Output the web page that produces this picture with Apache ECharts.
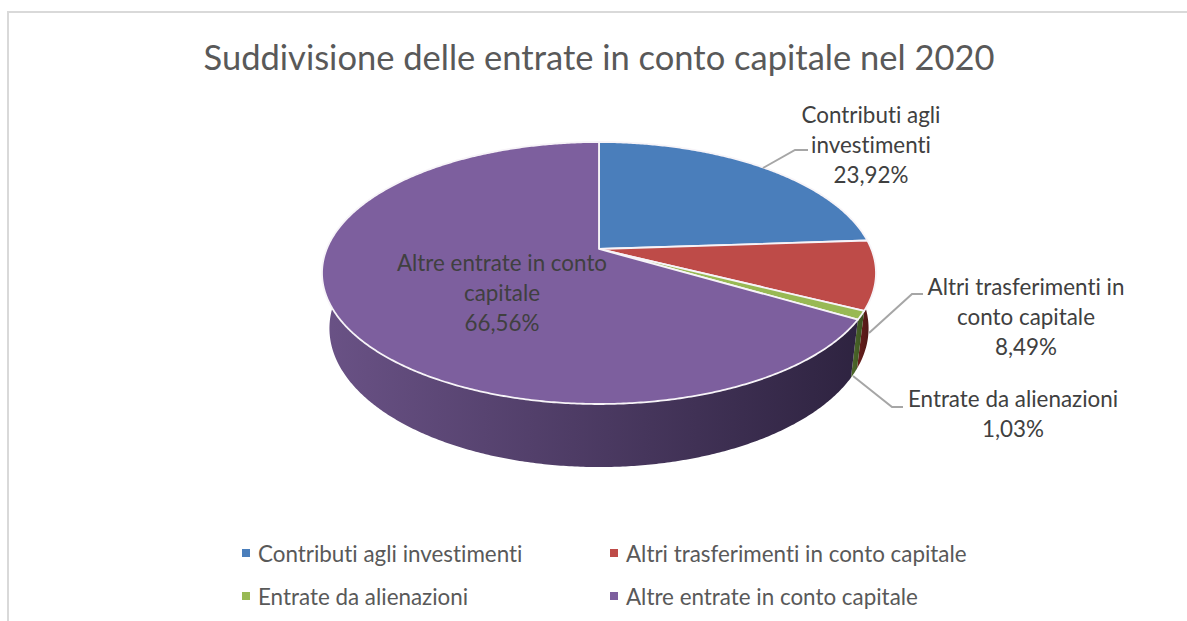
<!DOCTYPE html>
<html>
<head>
<meta charset="utf-8">
<style>
  html, body { margin: 0; padding: 0; background: #fff; }
  #main { width: 1187px; height: 621px; }
  #main text { font-variant-ligatures: none !important; }
</style>
<script src="https://cdn.jsdelivr.net/npm/echarts@6/dist/echarts.min.js"></script>
</head>
<body>
<div id="main"></div>
<script>
const titleText = "Suddivisione delle entrate in conto capitale nel 2020";
const categories = [
  "Contributi agli investimenti",
  "Altri trasferimenti in conto capitale",
  "Entrate da alienazioni",
  "Altre entrate in conto capitale",
];
const values = [23.92, 8.49, 1.03, 66.56];
const labelNames = [
  "Contributi agli\ninvestimenti",
  "Altri trasferimenti in\nconto capitale",
  "Entrate da alienazioni",
  "Altre entrate in conto\ncapitale",
];

const colors = ["#4a7ebb", "#be4b48", "#98b954", "#7d5f9e"];
const wallStops = [
  ["#35587f", "#2c4a6c"],
  ["#6b1f1d", "#3f1412"],
  ["#4f6a2b", "#3a5020"],
  ["#6a5286", "#2e2340"],
];

// label position and leader line for each slice
const labelPos = [
  [871, 144],
  [1026, 316],
  [1013, 413],
  [502, 292],
];
const leaders = [
  [[763, 168], [795, 150], [808, 150]],
  [[869, 333], [912, 294], [923, 294]],
  [[853, 376], [892, 407], [903, 407]],
  null,
];

// the pie is seen in perspective, so the centre sits above the middle of the ellipse
const cx = 599;
const persp = 0.1832;
const topRim = { y0: 249, rx: 272.3, ry: 126.6 };
const lowRim = { y0: 303, rx: 265, ry: 134 };

function rimPoint(rim, deg) {
  const a = deg * Math.PI / 180;
  const u = Math.sin(a);
  const v = -Math.cos(a);
  const d = 1 - persp * v;
  return [cx + rim.rx * u / d, rim.y0 + rim.ry * v / d];
}

function arc(rim, from, to) {
  const pts = [];
  const n = Math.max(2, Math.ceil((to - from) * 2));
  for (let i = 0; i <= n; i++) {
    pts.push(rimPoint(rim, from + (to - from) * i / n));
  }
  return pts;
}

const total = values.reduce((s, v) => s + v, 0);

function sliceRange(idx) {
  let before = 0;
  for (let i = 0; i < idx; i++) before += values[i];
  return [before / total * 360, (before + values[idx]) / total * 360];
}

function renderSlice(idx, api) {
  const range = sliceRange(idx);
  const value = api.value(0);
  const top = arc(topRim, range[0], range[1]);
  const low = arc(lowRim, range[0], range[1]);
  const children = [];

  // side wall
  const xs = low.concat(top).map((p) => p[0]);
  children.push({
    type: "polygon",
    shape: { points: top.concat(low.slice().reverse()) },
    style: {
      fill: new echarts.graphic.LinearGradient(
        Math.min.apply(null, xs), 0, Math.max.apply(null, xs), 0,
        [
          { offset: 0, color: wallStops[idx][0] },
          { offset: 1, color: wallStops[idx][1] },
        ],
        true
      ),
    },
  });

  // top face
  children.push({
    type: "polygon",
    shape: { points: [[cx, topRim.y0]].concat(top) },
    style: { fill: colors[idx], stroke: "#f7f4f8", lineWidth: 1.8, lineJoin: "round" },
  });

  if (leaders[idx]) {
    children.push({
      type: "polyline",
      shape: { points: leaders[idx] },
      style: { fill: null, stroke: "#a6a6a6", lineWidth: 2 },
    });
  }

  children.push({
    type: "text",
    x: labelPos[idx][0],
    y: labelPos[idx][1],
    z2: 10,
    style: {
      text: labelNames[idx] + "\n" + value.toFixed(2).replace(".", ",") + "%",
      fill: "#404040",
      font: "22.4px Lato",
      align: "center",
      verticalAlign: "middle",
      lineHeight: 30,
    },
  });

  return { type: "group", children: children };
}

const chart = echarts.init(document.getElementById("main"), null, { renderer: "svg" });

chart.setOption({
  animation: false,
  title: {
    text: titleText,
    left: 594,
    top: 34,
    textAlign: "center",
    textStyle: { color: "#595959", fontFamily: "Lato", fontWeight: "normal", fontSize: 34.5 },
  },
  legend: [
    {
      left: 242,
      top: 542,
      padding: 0,
      orient: "vertical",
      icon: "rect",
      itemWidth: 8,
      itemHeight: 8,
      itemGap: 21,
      textStyle: { color: "#595959", fontFamily: "Lato", fontSize: 22.4, padding: [0, 0, 0, 3] },
      data: [categories[0], categories[2]],
    },
    {
      left: 610,
      top: 542,
      padding: 0,
      orient: "vertical",
      icon: "rect",
      itemWidth: 8,
      itemHeight: 8,
      itemGap: 21,
      textStyle: { color: "#595959", fontFamily: "Lato", fontSize: 22.4, padding: [0, 0, 0, 3] },
      data: [categories[1], categories[3]],
    },
  ],
  graphic: [
    {
      type: "polyline",
      shape: { points: [[8, 621], [8, 12], [1187, 12]] },
      style: { fill: null, stroke: "#d9d9d9", lineWidth: 2 },
    },
  ],
  series: categories.map((name, i) => ({
    name: name,
    type: "custom",
    coordinateSystem: "none",
    itemStyle: { color: colors[i] },
    renderItem: (params, api) => renderSlice(i, api),
    data: [[values[i]]],
  })),
});
</script>
</body>
</html>
